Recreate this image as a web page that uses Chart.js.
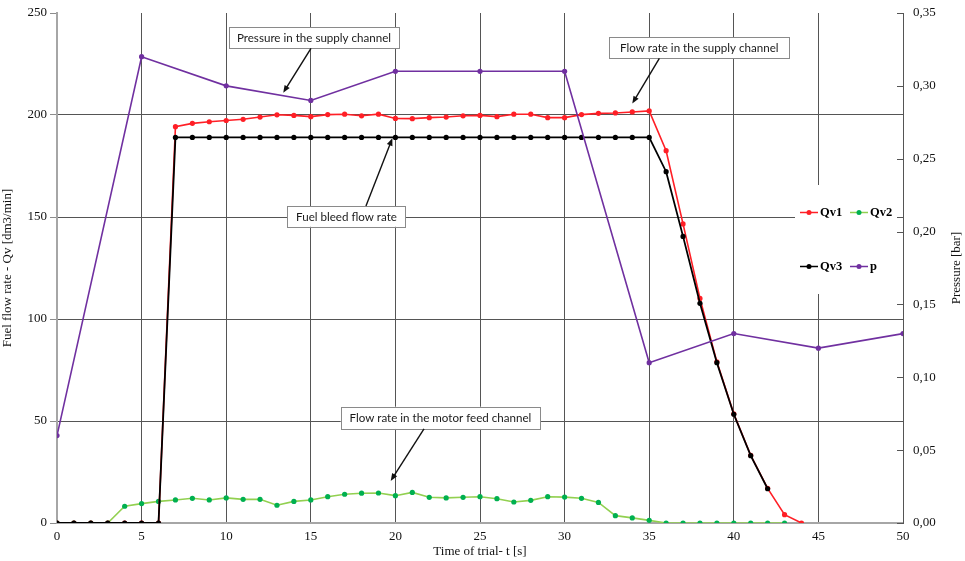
<!DOCTYPE html>
<html>
<head>
<meta charset="utf-8">
<script src="https://cdn.jsdelivr.net/npm/chart.js@4.4.1/dist/chart.umd.min.js"></script>
<style>
  body { margin: 0; background: #fff; }
  #wrap { width: 965px; height: 561px; }
</style>
</head>
<body>
<div id="wrap"><canvas id="chart" width="965" height="561"></canvas></div>
<script>
// time of trial [s]
const time = [0, 1, 2, 3, 4, 5, 6, 7, 8, 9, 10, 11, 12, 13, 14, 15, 16, 17, 18, 19, 20,
  21, 22, 23, 24, 25, 26, 27, 28, 29, 30, 31, 32, 33, 34, 35, 36, 37, 38, 39, 40, 41, 42, 43, 44];

// flow rate in the supply channel
const qv1 = [0, 0, 0, 0, 0, 0, 0, 194.3, 195.9, 196.7, 197.3, 197.9, 199.0, 200.1, 199.8, 199.2,
  200.2, 200.4, 199.6, 200.4, 198.3, 198.2, 198.7, 199.0, 199.6, 199.8, 199.2, 200.4, 200.4,
  198.7, 198.7, 200.2, 200.8, 201.0, 201.5, 202.0, 182.5, 146.6, 110.1, 79.0, 53.5, 33.2, 17.0, 4.1, 0];

// flow rate in the motor feed channel
const qv2 = [0, 0, 0, 0, 8.2, 9.5, 10.6, 11.3, 12.1, 11.3, 12.3, 11.6, 11.6, 8.7, 10.6, 11.3,
  12.9, 14.1, 14.6, 14.7, 13.4, 15.0, 12.6, 12.3, 12.6, 12.9, 11.9, 10.3, 11.1, 12.9, 12.7,
  12.1, 10.1, 3.6, 2.5, 1.3, 0, 0, 0, 0, 0, 0, 0, 0];

// fuel bleed flow rate
const qv3 = [0, 0, 0, 0, 0, 0, 0, 189, 189, 189, 189, 189, 189, 189, 189, 189, 189, 189, 189,
  189, 189, 189, 189, 189, 189, 189, 189, 189, 189, 189, 189, 189, 189, 189, 189, 189,
  172.2, 140.5, 107.7, 78.6, 53.3, 33.0, 16.8];

// pressure in the supply channel [bar]
const pTime = [0, 5, 10, 15, 20, 25, 30, 35, 40, 45, 50];
const pressure = [0.06, 0.32, 0.30, 0.29, 0.31, 0.31, 0.31, 0.11, 0.13, 0.12, 0.13];

const xTitle = "Time of trial- t [s]";
const yTitle = "Fuel flow rate - Qv [dm3/min]";
const y1Title = "Pressure [bar]";

// callouts, placed in data units of the x / y scales
const notes = [
  { text: "Pressure in the supply channel", box: [10.17, 20.21, 243.1, 232.7], from: [15.01, 232.7], to: [13.37, 210.9] },
  { text: "Flow rate in the supply channel", box: [32.64, 43.28, 238.1, 227.8], from: [35.6, 227.8], to: [34.0, 205.6] },
  { text: "Fuel bleed flow rate", box: [13.61, 20.61, 155.4, 145.2], from: [18.26, 155.4], to: [19.82, 188.6] },
  { text: "Flow rate in the motor feed channel", box: [16.77, 28.55, 57.0, 46.1], from: [21.69, 46.1], to: [19.72, 20.6] },
];

const toPoints = (xs, ys) => ys.map((v, i) => ({ x: xs[i], y: v }));

const serif = "'Liberation Serif', 'Times New Roman', serif";

const notesPlugin = {
  id: "notes",
  afterDatasetsDraw(chart) {
    const { ctx, scales } = chart;
    const sx = (v) => scales.x.getPixelForValue(v);
    const sy = (v) => scales.y.getPixelForValue(v);
    ctx.save();
    notes.forEach((n) => {
      const x0 = sx(n.box[0]), x1 = sx(n.box[1]);
      const y0 = sy(n.box[2]), y1 = sy(n.box[3]);
      ctx.fillStyle = "#fff";
      ctx.fillRect(x0, y0, x1 - x0, y1 - y0);
      ctx.strokeStyle = "#8a8a8a";
      ctx.lineWidth = 1;
      ctx.strokeRect(Math.round(x0) + 0.5, Math.round(y0) + 0.5, Math.round(x1 - x0), Math.round(y1 - y0));
      ctx.fillStyle = "#1a1a1a";
      ctx.font = "11.6px Lato, 'Open Sans', sans-serif";
      ctx.textAlign = "center";
      ctx.textBaseline = "middle";
      ctx.fillText(n.text, (x0 + x1) / 2, (y0 + y1) / 2 + 0.5);

      // arrow
      const ax = sx(n.from[0]), ay = sy(n.from[1]);
      const bx = sx(n.to[0]), by = sy(n.to[1]);
      const ang = Math.atan2(by - ay, bx - ax);
      const head = 8;
      ctx.strokeStyle = "#111";
      ctx.lineWidth = 1.4;
      ctx.beginPath();
      ctx.moveTo(ax, ay);
      ctx.lineTo(bx - Math.cos(ang) * head * 0.8, by - Math.sin(ang) * head * 0.8);
      ctx.stroke();
      ctx.fillStyle = "#111";
      ctx.beginPath();
      ctx.moveTo(bx, by);
      ctx.lineTo(bx - head * Math.cos(ang - 0.38), by - head * Math.sin(ang - 0.38));
      ctx.lineTo(bx - head * Math.cos(ang + 0.38), by - head * Math.sin(ang + 0.38));
      ctx.closePath();
      ctx.fill();
    });
    ctx.restore();
  },
};

const legendPlugin = {
  id: "boxLegend",
  afterDatasetsDraw(chart) {
    const { ctx, chartArea } = chart;
    const ds = chart.data.datasets;
    const left = chartArea.right - 108;
    ctx.save();
    ctx.fillStyle = "#fff";
    ctx.fillRect(left, chartArea.top + 172, 102, 109);
    const rows = [[0, 1], [2, 3]];
    rows.forEach((row, r) => {
      const y = chartArea.top + 199.5 + r * 54;
      row.forEach((idx, c) => {
        const d = ds[idx];
        const x = left + 5 + c * 50;
        ctx.strokeStyle = d.borderColor;
        ctx.lineWidth = 1.5;
        ctx.beginPath();
        ctx.moveTo(x, y);
        ctx.lineTo(x + 18, y);
        ctx.stroke();
        ctx.fillStyle = d.pointBackgroundColor;
        ctx.beginPath();
        ctx.arc(x + 9, y, 2.5, 0, Math.PI * 2);
        ctx.fill();
        ctx.fillStyle = "#000";
        ctx.font = "bold 12.5px " + serif;
        ctx.textAlign = "left";
        ctx.textBaseline = "middle";
        ctx.fillText(d.label, x + 20, y + 0.5);
      });
    });
    ctx.restore();
  },
  afterDraw(chart) {
    const { ctx, chartArea, scales } = chart;
    ctx.save();
    // small inward ticks on the pressure axis
    ctx.strokeStyle = "#555";
    ctx.lineWidth = 1;
    scales.y1.ticks.forEach((t) => {
      const y = Math.round(scales.y1.getPixelForValue(t.value)) + 0.5;
      ctx.beginPath();
      ctx.moveTo(chartArea.right - 6, y);
      ctx.lineTo(chartArea.right, y);
      ctx.stroke();
    });
    // right axis title, reading bottom to top
    ctx.translate(chart.width - 8, (chartArea.top + chartArea.bottom) / 2);
    ctx.rotate(-Math.PI / 2);
    ctx.fillStyle = "#111";
    ctx.font = "13px " + serif;
    ctx.textAlign = "center";
    ctx.textBaseline = "middle";
    ctx.fillText(y1Title, 0, 0);
    ctx.restore();
  },
};

const tickFont = { family: serif, size: 13 };

// fixed axis sizes so the plot area sits where the original one does
const fitY = (w) => (s) => { s.width = w; s.paddingTop = 0; s.paddingBottom = 0; };

new Chart(document.getElementById("chart"), {
  type: "line",
  data: {
    datasets: [
      {
        label: "Qv1",
        data: toPoints(time, qv1),
        borderColor: "#ff1f26",
        pointBackgroundColor: "#ff1f26",
        borderWidth: 1.6,
        pointRadius: 2.6,
        pointBorderWidth: 0,
        order: 2,
      },
      {
        label: "Qv2",
        data: toPoints(time, qv2),
        borderColor: "#92d050",
        pointBackgroundColor: "#00b050",
        borderWidth: 1.6,
        pointRadius: 2.6,
        pointBorderWidth: 0,
        order: 3,
      },
      {
        label: "Qv3",
        data: toPoints(time, qv3),
        borderColor: "#000000",
        pointBackgroundColor: "#000000",
        borderWidth: 1.8,
        pointRadius: 2.6,
        pointBorderWidth: 0,
        order: 1,
      },
      {
        label: "p",
        data: toPoints(pTime, pressure),
        yAxisID: "y1",
        borderColor: "#7030a0",
        pointBackgroundColor: "#7030a0",
        borderWidth: 1.6,
        pointRadius: 2.6,
        pointBorderWidth: 0,
        order: 0,
      },
    ],
  },
  options: {
    responsive: false,
    animation: false,
    layout: { padding: { top: 13, left: 0, right: 0, bottom: 0 } },
    plugins: {
      legend: { display: false },
      tooltip: { enabled: false },
    },
    elements: { line: { tension: 0 } },
    scales: {
      x: {
        type: "linear",
        min: 0,
        max: 50,
        ticks: { stepSize: 5, font: tickFont, color: "#111", padding: 6, maxRotation: 0 },
        grid: {
          color: (c) => (c.tick && (c.tick.value === 0 || c.tick.value === 50) ? "rgba(0,0,0,0)" : "#555"),
          drawTicks: false,
        },
        border: { color: "#a6a6a6", width: 2 },
        title: { display: true, text: xTitle, font: { family: serif, size: 13 }, color: "#111", padding: { top: 0, bottom: 2 } },
        afterFit: (s) => { s.height = 38; },
      },
      y: {
        position: "left",
        min: 0,
        max: 250,
        ticks: { stepSize: 50, font: tickFont, color: "#111", padding: 3 },
        grid: {
          color: (c) => (c.tick && (c.tick.value === 0 || c.tick.value === 250) ? "rgba(0,0,0,0)" : "#555"),
          tickColor: "#8c8c8c",
          tickLength: 7,
        },
        border: { color: "#a6a6a6", width: 2 },
        title: { display: true, text: yTitle, font: { family: serif, size: 13 }, color: "#111", padding: { top: 0, bottom: 0 } },
        afterFit: fitY(57),
      },
      y1: {
        position: "right",
        min: 0,
        max: 0.35,
        ticks: {
          stepSize: 0.05,
          font: tickFont,
          color: "#111",
          padding: 10,
          callback: (v) => v.toFixed(2).replace(".", ","),
        },
        grid: { drawOnChartArea: false, drawTicks: false },
        border: { color: "#555", width: 1 },
        afterFit: fitY(62),
      },
    },
  },
  plugins: [notesPlugin, legendPlugin],
});
</script>
</body>
</html>
